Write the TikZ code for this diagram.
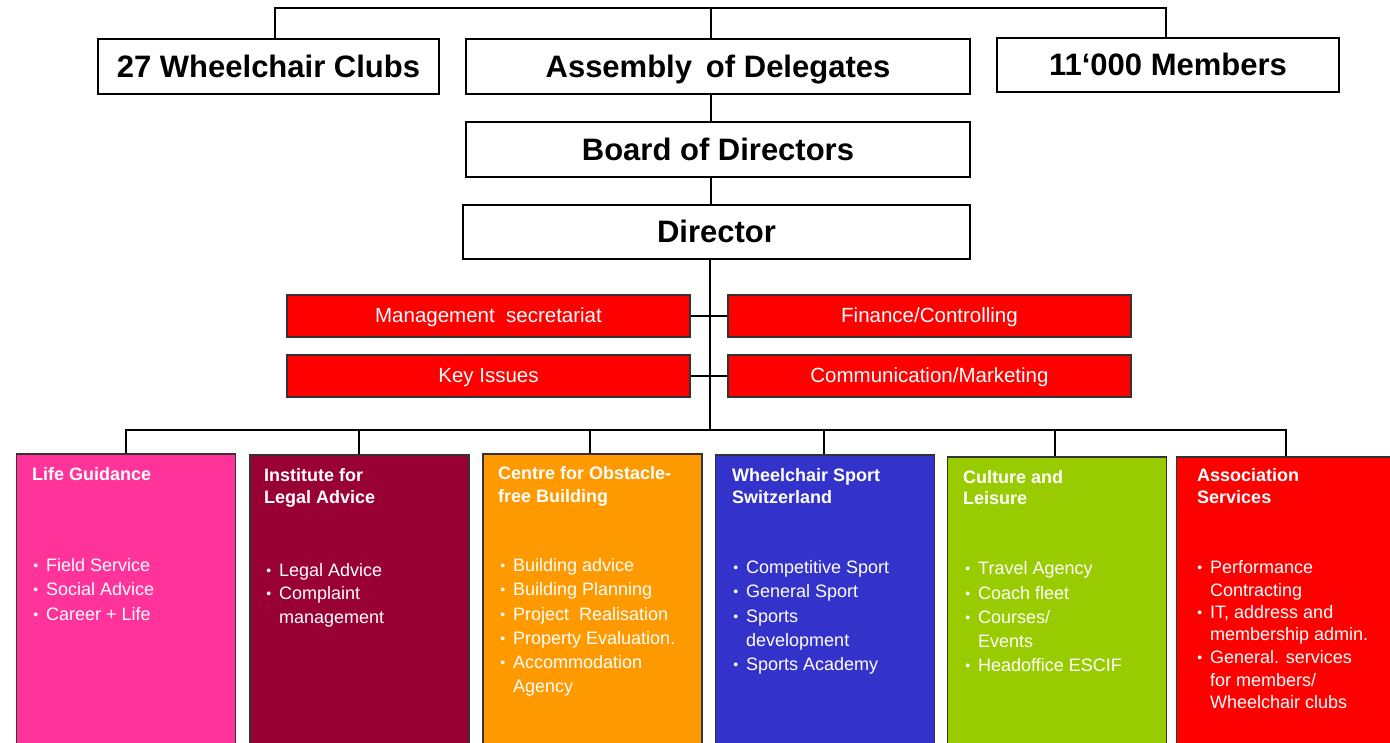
\documentclass[tikz,border=0pt]{standalone}
\usepackage{fontspec}
\setmainfont{Liberation Sans}
\definecolor{cpink}{HTML}{FF3399}
\definecolor{cmaroon}{HTML}{990033}
\definecolor{corange}{HTML}{FF9900}
\definecolor{cblue}{HTML}{3333CC}
\definecolor{cgreen}{HTML}{99CC00}
\definecolor{cred}{HTML}{FF0000}
\newcommand\bitem[4]{\node[itm] (#1) at (#2,#3) {\llap{\raisebox{1pt}{\fontsize{14}{14}\selectfont •}\hspace{8pt}}#4};}
\newcommand\citem[4]{\node[itm] (#1) at (#2,#3) {#4};}
\begin{document}
\begin{tikzpicture}[x=1pt,y=-1pt,
  conn/.style={draw=black, line width=1.3pt},
  topbox/.style={draw=black, line width=1.5pt, fill=white, inner sep=0pt,
    font=\fontsize{31}{36}\selectfont\bfseries, text height=28pt, text depth=6pt},
  redbox/.style={draw=black!80, line width=1.2pt, fill=cred, text=white, inner sep=0pt,
    minimum width=403, font=\fontsize{20.5}{24}\selectfont, text height=17pt, text depth=4pt},
  unit/.style={draw=black!80, line width=1.2pt, inner sep=0pt, minimum height=300, minimum width=219},
  ttl/.style={anchor=base west, inner sep=0pt, text=white, font=\fontsize{18}{22}\selectfont\bfseries},
  itm/.style={anchor=base west, inner sep=0pt, text=white, font=\fontsize{18}{22}\selectfont}]
\clip (0,0) rectangle (1390,743);
\fill[white] (0,0) rectangle (1390,743);

% top level
\node[topbox, minimum width=341, minimum height=55] (clubs) at (268.5,66.5) {27 Wheelchair Clubs};
\node[topbox, minimum width=504, minimum height=55] (assembly) at (718,66.5) {Assembly\hspace{0.45em}of Delegates};
\node[topbox, minimum width=342, minimum height=54] (members) at (1168,65) {11‘000 Members};
\node[topbox, minimum width=504, minimum height=55] (board) at (718,149.5) {Board of Directors};
\node[topbox, minimum width=507, minimum height=54] (director) at (716.5,232) {Director};

\coordinate (topbar) at (711,8);
\coordinate (hub) at (710,430);
\draw[conn] ([xshift=6.5pt]clubs.north) |- (topbar) -| ([xshift=-2pt]members.north);
\draw[conn] (assembly.north -| topbar) -- (topbar);
\draw[conn] (assembly.south -| topbar) -- (board.north -| topbar);
\draw[conn] (board.south -| topbar) -- (director.north -| topbar);
\draw[conn] (director.south -| hub) -- (hub);

% staff units
\node[redbox, minimum height=42] (mgmt) at (488.5,316) {Management\ \ secretariat};
\node[redbox, minimum height=42] (fin) at (929.5,316) {Finance/Controlling};
\node[redbox, minimum height=42] (key) at (488.5,376) {Key Issues};
\node[redbox, minimum height=42] (comm) at (929.5,376) {Communication/Marketing};
\draw[conn] (mgmt.east) -- (fin.west);
\draw[conn] (key.east) -- (comm.west);

% departments
\node[unit, fill=cpink] (lg) at (126,604) {};
\node[unit, fill=cmaroon] (ila) at (359.5,605) {};
\node[unit, fill=corange] (cob) at (592.5,604) {};
\node[unit, fill=cblue] (wss) at (825,605) {};
\node[unit, fill=cgreen] (cl) at (1057,607) {};
\node[unit, fill=cred] (as) at (1286,607) {};

\draw[conn] (lg.north) |- (hub) -| (as.north);
\draw[conn] ([xshift=-0.5pt]ila.north) -- ++(0,-25);
\draw[conn] ([xshift=-2.5pt]cob.north) -- ++(0,-24);
\draw[conn] ([xshift=-1pt]wss.north) -- ++(0,-25);
\draw[conn] ([xshift=-2pt]cl.north) -- ++(0,-27);

% Life Guidance
\node[ttl] (lgT) at (32,480) {Life Guidance};
\bitem{lg1}{46}{571}{Field Service}
\bitem{lg2}{46}{595.5}{Social Advice}
\bitem{lg3}{46}{620}{Career + Life}

% Institute for Legal Advice
\node[ttl] (ilaT1) at (264,481) {Institute for};
\node[ttl] (ilaT2) at (264,503) {Legal Advice};
\bitem{ila1}{279}{576}{Legal Advice}
\bitem{ila2}{279}{599.5}{Complaint}
\citem{ila3}{279}{623}{management}

% Centre for Obstacle-free Building
\node[ttl] (cobT1) at (498,479) {Centre for Obstacle-};
\node[ttl] (cobT2) at (498,502) {free Building};
\bitem{cob1}{513}{571}{Building advice}
\bitem{cob2}{513}{595.5}{Building Planning}
\bitem{cob3}{513}{620}{Project\ \ Realisation}
\bitem{cob4}{513}{644}{Property Evaluation.}
\bitem{cob5}{513}{668.5}{Accommodation}
\citem{cob6}{513}{692}{Agency}

% Wheelchair Sport Switzerland
\node[ttl] (wssT1) at (732,481) {Wheelchair Sport};
\node[ttl] (wssT2) at (732,503) {Switzerland};
\bitem{wss1}{746}{573}{Competitive Sport}
\bitem{wss2}{746}{597}{General Sport}
\bitem{wss3}{746}{622}{Sports}
\citem{wss4}{746}{646}{development}
\bitem{wss5}{746}{670}{Sports Academy}

% Culture and Leisure
\node[ttl] (clT1) at (963,483) {Culture and};
\node[ttl] (clT2) at (963,504) {Leisure};
\bitem{cl1}{978}{574}{Travel\ Agency}
\bitem{cl2}{978}{599}{Coach fleet}
\bitem{cl3}{978}{623}{Courses/}
\citem{cl4}{978}{647}{Events}
\bitem{cl5}{978}{671}{Headoffice ESCIF}

% Association Services
\node[ttl] (asT1) at (1197,481) {Association};
\node[ttl] (asT2) at (1197,503) {Services};
\bitem{as1}{1210}{573}{Performance}
\citem{as2}{1210}{596}{Contracting}
\bitem{as3}{1210}{618}{IT, address and}
\citem{as4}{1210}{640}{membership admin.}
\bitem{as5}{1210}{663}{General. services}
\citem{as6}{1210}{686}{for members/}
\citem{as7}{1210}{708}{Wheelchair clubs}
\end{tikzpicture}
\end{document}
